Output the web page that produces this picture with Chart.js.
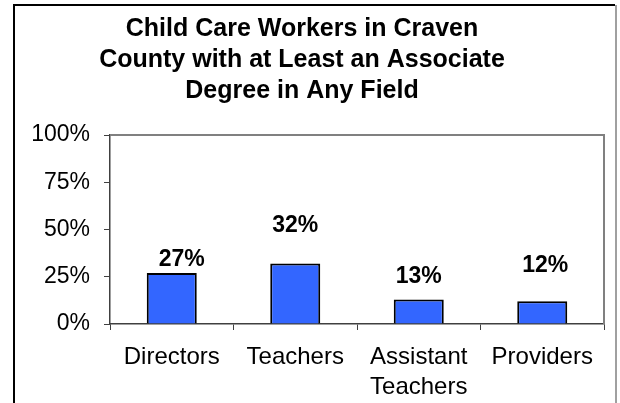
<!DOCTYPE html>
<html>
<head>
<meta charset="utf-8">
<script src="https://cdn.jsdelivr.net/npm/chart.js@4.4.0/dist/chart.umd.min.js"></script>
<style>
  html, body { margin: 0; padding: 0; background: #fff; }
  #wrap { position: relative; width: 620px; height: 403px; }
</style>
</head>
<body>
<div id="wrap"><canvas id="chart" width="620" height="403"></canvas></div>
<script>
const titleLines = ["Child Care Workers in Craven", "County with at Least an Associate", "Degree in Any Field"];
const categories = ["Directors", "Teachers", ["Assistant", "Teachers"], "Providers"];
const values = [27, 32, 13, 12];
const yTicks = [0, 25, 50, 75, 100];

// frame around the chart + grey top/right edge of plot area
const framePlugin = {
  id: "frame",
  beforeDraw(chart) {
    const ctx = chart.ctx;
    ctx.save();
    ctx.fillStyle = "#fff";
    ctx.fillRect(0, 0, chart.width, chart.height);
    ctx.lineWidth = 2;
    ctx.strokeStyle = "#000";
    ctx.beginPath();
    ctx.moveTo(14, chart.height + 5);
    ctx.lineTo(14, 5);
    ctx.lineTo(615, 5);
    ctx.stroke();
    ctx.strokeStyle = "#a0a0a0";
    ctx.beginPath();
    ctx.moveTo(616, 5);
    ctx.lineTo(616, chart.height + 5);
    ctx.stroke();
    ctx.restore();
  },
  afterDatasetsDraw(chart) {
    const a = chart.chartArea, ctx = chart.ctx;
    ctx.save();
    ctx.strokeStyle = "#808080";
    ctx.lineWidth = 2;
    ctx.beginPath();
    ctx.moveTo(a.left, a.top);
    ctx.lineTo(a.right, a.top);
    ctx.lineTo(a.right, a.bottom);
    ctx.stroke();
    ctx.restore();
  }
};

// value labels above bars
const labelPlugin = {
  id: "barLabels",
  afterDatasetsDraw(chart, args, opts) {
    const ctx = chart.ctx;
    const meta = chart.getDatasetMeta(0);
    ctx.save();
    ctx.font = "bold 23px Arial, 'Liberation Sans', sans-serif";
    ctx.fillStyle = "#000";
    ctx.textAlign = "center";
    ctx.textBaseline = "middle";
    meta.data.forEach((bar, i) => {
      const v = chart.data.datasets[0].data[i];
      ctx.fillText(v + "%", bar.x + opts.dx[i], bar.y - opts.lift[i]);
    });
    ctx.restore();
  }
};

new Chart(document.getElementById("chart"), {
  type: "bar",
  data: {
    labels: categories,
    datasets: [{
      data: values,
      backgroundColor: "#3366ff",
      borderColor: "#000",
      borderWidth: 2,
      barPercentage: 0.405,
      categoryPercentage: 1
    }]
  },
  options: {
    responsive: false,
    animation: false,
    layout: { padding: { left: 0, right: 16, top: 0, bottom: 0 } },
    plugins: {
      legend: { display: false },
      tooltip: { enabled: false },
      title: {
        display: true,
        text: titleLines,
        color: "#000",
        font: { family: "Arial, 'Liberation Sans', sans-serif", size: 25, weight: "bold", lineHeight: 1.24 },
        padding: { top: 14, bottom: 28 }
      },
      barLabels: {
        dx: [10, 0, 0, 3],
        lift: [13, 38, 23, 36]
      }
    },
    scales: {
      x: {
        grid: { drawOnChartArea: false, drawTicks: true, tickLength: 6, color: "#404040", offset: true },
        border: { display: true, color: "#404040", width: 1.5 },
        ticks: {
          color: "#000",
          padding: 12,
          maxRotation: 0,
          autoSkip: false,
          font: { family: "Arial, 'Liberation Sans', sans-serif", size: 24, lineHeight: 1.25 }
        },
        afterFit(scale) { scale.height = 79; }
      },
      y: {
        min: 0,
        max: 100,
        afterBuildTicks(scale) { scale.ticks = yTicks.map(v => ({ value: v })); },
        grid: { drawOnChartArea: false, drawTicks: true, tickLength: 6, color: "#404040" },
        border: { display: true, color: "#404040", width: 1.5 },
        ticks: {
          color: "#000",
          padding: 14,
          callback: v => v + "%",
          font: { family: "Arial, 'Liberation Sans', sans-serif", size: 23 }
        },
        afterFit(scale) { scale.width = 110; }
      }
    }
  },
  plugins: [framePlugin, labelPlugin]
});
</script>
</body>
</html>
